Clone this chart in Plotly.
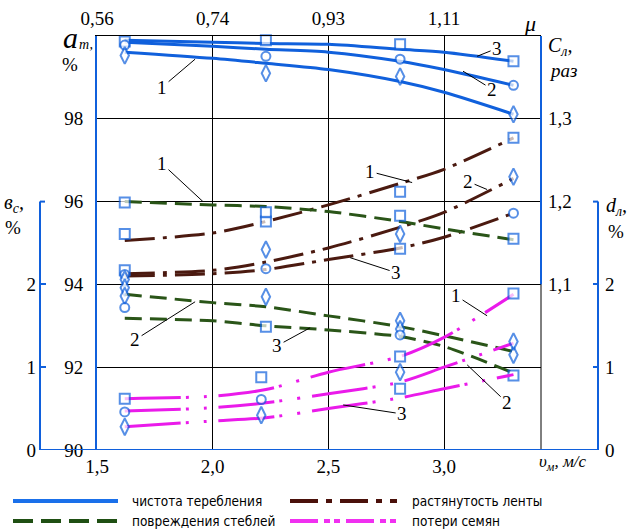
import plotly.graph_objects as go

W, H = 633, 529

# ---------------- data ----------------
v_fit = [1.62, 2.0, 2.23, 2.5, 2.81, 3.0, 3.3]          # υм, м/с
mu_ticks = [1.5, 2.0, 2.5, 3.0]
mu_labels = ['0,56', '0,74', '0,93', '1,11']
v_ticks = [1.5, 2.0, 2.5, 3.0]
v_labels = ['1,5', '2,0', '2,5', '3,0']

# чистота теребления a_т, %
clean_1 = [99.61, 99.46, 99.34, 99.19, 98.90, 98.64, 98.11]
clean_2 = [99.85, 99.75, 99.68, 99.61, 99.39, 99.19, 98.81]
clean_3 = [99.90, 99.85, 99.82, 99.80, 99.68, 99.61, 99.39]
clean_mk_v = [1.62, 1.62, 1.62, 2.23, 2.23, 2.23, 2.81, 2.81, 2.81, 3.3, 3.3, 3.3]
clean_mk = [99.87, 99.78, 99.53, 99.90, 99.51, 99.10, 99.80, 99.44, 99.02, 99.39, 98.81, 98.11]
clean_mk_s = ['s', 'c', 'd', 's', 'c', 'd', 's', 'c', 'd', 's', 'c', 'd']

# растянутость ленты С_л, раз
stretch_1 = [1.153, 1.162, 1.176, 1.196, 1.222, 1.239, 1.277]
stretch_2 = [1.113, 1.117, 1.127, 1.144, 1.169, 1.187, 1.228]
stretch_3 = [1.110, 1.113, 1.118, 1.130, 1.144, 1.157, 1.186]
stretch_mk_v = [1.62, 1.62, 1.62, 1.62, 2.23, 2.23, 2.23, 2.81, 2.81, 2.81, 3.3, 3.3, 3.3]
stretch_mk = [1.161, 1.117, 1.112, 1.106, 1.176, 1.142, 1.119, 1.212, 1.161, 1.143, 1.277, 1.230, 1.186]
stretch_mk_s = ['s', 's', 'c', 'd', 's', 'd', 'c', 's', 'd', 's', 's', 'd', 'c']

# повреждения стеблей в_с, %
damage_1 = [3.00, 2.96, 2.94, 2.88, 2.76, 2.67, 2.54]
damage_2 = [1.88, 1.78, 1.73, 1.62, 1.49, 1.38, 1.19]
damage_3 = [1.59, 1.56, 1.50, 1.45, 1.37, 1.25, 0.93]
damage_mk_v = [1.62, 1.62, 1.62, 1.62, 2.23, 2.23, 2.23, 2.81, 2.81, 2.81, 2.81, 3.3, 3.3, 3.3]
damage_mk = [2.99, 1.96, 1.86, 1.72, 2.87, 1.85, 1.49, 2.83, 1.56, 1.46, 1.39, 2.55, 1.15, 0.90]
damage_mk_s = ['s', 'd', 'd', 'c', 's', 'd', 's', 's', 'd', 'd', 'c', 's', 'd', 's']

# потери семян d_л, %
loss_1 = [0.62, 0.65, 0.73, 0.94, 1.13, 1.36, 1.88]
loss_2 = [0.47, 0.51, 0.57, 0.68, 0.82, 1.00, 1.29]
loss_3 = [0.28, 0.35, 0.39, 0.50, 0.63, 0.74, 0.91]
loss_mk_v = [1.62, 1.62, 1.62, 2.21, 2.21, 2.21, 2.81, 2.81, 2.81, 3.3, 3.3]
loss_mk = [0.62, 0.46, 0.28, 0.88, 0.61, 0.42, 1.13, 0.94, 0.74, 1.89, 1.31]
loss_mk_s = ['s', 'c', 'd', 's', 'c', 'd', 's', 'd', 's', 's', 'd']

legend_names = ['чистота теребления', 'растянутость ленты', 'повреждения стеблей', 'потери семян']

# ---------------- styles ----------------
BLUE = '#1060dc'
GREEN = '#2a5518'
BROWN = '#4b1a10'
PINK = '#ea1aea'
FONT = 'Liberation Serif'
SYM = {'s': 'square', 'c': 'circle', 'd': 'diamond-tall'}
SIZE = {'s': 10, 'c': 9, 'd': 12}

DASH_G = '17px,8px'
DASH_B = '30px,8px,4px,8px'
DASH_P = '56px,5px,3px,15px,3px,12px'

fig = go.Figure()


def add_line(y, axis, color, dash):
    fig.add_trace(go.Scatter(
        x=v_fit, y=y, yaxis=axis, mode='lines',
        line=dict(color=color, width=3, dash=dash, shape='spline', smoothing=0.8),
        showlegend=False, hoverinfo='skip'))


def add_markers(xv, yv, syms, axis):
    fig.add_trace(go.Scatter(
        x=xv, y=yv, yaxis=axis, mode='markers', cliponaxis=False,
        marker=dict(symbol=[SYM[s] for s in syms], size=[SIZE[s] for s in syms],
                    color='white', line=dict(color=BLUE, width=2)),
        showlegend=False, hoverinfo='skip'))


for ys in (clean_1, clean_2, clean_3):
    add_line(ys, 'y', BLUE, 'solid')
for ys in (stretch_1, stretch_2, stretch_3):
    add_line(ys, 'y2', BROWN, DASH_B)
for ys in (damage_1, damage_2, damage_3):
    add_line(ys, 'y3', GREEN, DASH_G)
for ys in (loss_1, loss_2, loss_3):
    add_line(ys, 'y4', PINK, DASH_P)

add_markers(clean_mk_v, clean_mk, clean_mk_s, 'y')
add_markers(stretch_mk_v, stretch_mk, stretch_mk_s, 'y2')
add_markers(damage_mk_v, damage_mk, damage_mk_s, 'y3')
add_markers(loss_mk_v, loss_mk, loss_mk_s, 'y4')

# top axis holder
fig.add_trace(go.Scatter(x=[], y=[], xaxis='x2', yaxis='y', mode='markers', showlegend=False))

# ---------------- layout ----------------
x0, x1 = 97 / W, 541 / W
y0, y1 = (H - 450) / H, (H - 36) / H
xr = [1.5, 3.419]

tickfont = dict(family=FONT, size=19, color='black')

fig.update_layout(
    width=W, height=H, margin=dict(l=0, r=0, t=0, b=0, autoexpand=False),
    paper_bgcolor='white', plot_bgcolor='white', showlegend=False,
    font=dict(family=FONT, size=19, color='black'),
    xaxis=dict(domain=[x0, x1], range=xr, tickvals=v_ticks, ticktext=v_labels,
               showgrid=True, gridcolor='black', gridwidth=1, zeroline=False,
               showline=False, ticks='', ticklabelstandoff=3, tickfont=tickfont,
               automargin=False),
    xaxis2=dict(overlaying='x', side='top', anchor='y', range=xr, tickvals=mu_ticks,
                ticktext=mu_labels, showgrid=False, showline=True, linecolor='black',
                linewidth=1, ticks='', zeroline=False, ticklabelstandoff=2, tickfont=tickfont,
                automargin=False),
    yaxis=dict(domain=[y0, y1], range=[90, 100], tickvals=[90, 92, 94, 96, 98],
               ticktext=['90', '92', '94', '96', '98'],
               showgrid=True, gridcolor='black', gridwidth=1, showline=True,
               linecolor=BLUE, linewidth=2, zeroline=False, ticks='',
               ticklabelstandoff=8, tickfont=tickfont, automargin=False),
    yaxis2=dict(overlaying='y', side='right', anchor='x', range=[0.9, 1.4],
                tickvals=[1.1, 1.2, 1.3], ticktext=['1,1', '1,2', '1,3'],
                showgrid=False, showline=False, zeroline=False, ticks='',
                ticklabelstandoff=6, tickfont=tickfont, automargin=False),
    yaxis3=dict(overlaying='y', side='left', anchor='free', position=40 / W,
                range=[0, 5], tickvals=[0, 1, 2], ticktext=['0', '1', '2'],
                ticks='inside', ticklen=5, tickwidth=2, tickcolor=BLUE,
                showgrid=False, showline=False, zeroline=False,
                ticklabelstandoff=4, tickfont=tickfont, automargin=False),
    yaxis4=dict(overlaying='y', side='right', anchor='free', position=598 / W,
                range=[0, 5], tickvals=[0, 1, 2], ticktext=['0', '1', '2'],
                ticks='inside', ticklen=5, tickwidth=2, tickcolor=BLUE,
                showgrid=False, showline=False, zeroline=False,
                ticklabelstandoff=6, tickfont=tickfont, automargin=False),
)

shapes = []
# partial axis lines
shapes.append(dict(type='line', xref='paper', yref='y3', x0=40 / W, x1=40 / W, y0=0, y1=3,
                   line=dict(color=BLUE, width=2)))
shapes.append(dict(type='line', xref='paper', yref='y3', x0=40 / W, x1=45 / W, y0=3, y1=3,
                   line=dict(color=BLUE, width=2)))
shapes.append(dict(type='line', xref='paper', yref='y4', x0=598 / W, x1=598 / W, y0=0, y1=3,
                   line=dict(color=BLUE, width=2)))
shapes.append(dict(type='line', xref='paper', yref='y4', x0=593 / W, x1=598 / W, y0=3, y1=3,
                   line=dict(color=BLUE, width=2)))
shapes.append(dict(type='line', xref='paper', yref='y2', x0=x1, x1=x1, y0=1.1, y1=1.4,
                   line=dict(color=BLUE, width=2)))
shapes.append(dict(type='line', xref='paper', yref='y', x0=x1, x1=x1, y0=90, y1=94,
                   line=dict(color='black', width=1)))
shapes.append(dict(type='line', xref='paper', yref='y', x0=40 / W, x1=598 / W, y0=90, y1=90,
                   line=dict(color=BLUE, width=2)))

# legend
LEG = [(13, 118, 501, '#1a70ea', 'solid', 130, legend_names[0]),
       (290, 397, 501, '#4a100a', '28px,8px,6px,8px', 410, legend_names[1]),
       (13, 118, 521, '#1f4f13', '20px,8px', 130, legend_names[2]),
       (290, 397, 521, '#f030f0', '28px,6px,6px,4px,6px,6px', 410, legend_names[3])]
annotations = []
for xa, xb, yy, col, dsh, xt, name in LEG:
    shapes.append(dict(type='line', xref='paper', yref='paper', x0=xa / W, x1=xb / W,
                       y0=(H - yy) / H, y1=(H - yy) / H, line=dict(color=col, width=4, dash=dsh)))
    annotations.append(dict(xref='paper', yref='paper', x=xt / W, y=(H - yy) / H, text=name,
                            showarrow=False, xanchor='left', yanchor='middle',
                            font=dict(family='DejaVu Sans Condensed, Liberation Sans Narrow, Roboto',
                                      size=13.5, color='black')))


def ptxt(x, y, text, size=19, xanchor='center'):
    annotations.append(dict(xref='paper', yref='paper', x=x / W, y=(H - y) / H, text=text,
                            showarrow=False, xanchor=xanchor, yanchor='middle',
                            font=dict(family=FONT, size=size, color='black')))


# axis titles
ptxt(70, 37, '<i>a</i>', 30)
ptxt(86, 44, '<i>т,</i>', 14)
ptxt(70, 65, '%', 19)
ptxt(546, 47, '<i>С<sub>л</sub>,</i>', 20, 'left')
ptxt(547, 70, '<i>раз</i>', 19, 'left')
ptxt(14, 203, '<i>в<sub>с</sub>,</i>', 20)
ptxt(13, 227, '%', 19)
ptxt(616, 207, '<i>d<sub>л</sub>,</i>', 20)
ptxt(616, 232, '%', 19)
ptxt(562, 463, '<i>υ<sub>м</sub>, м/с</i>', 17)
ptxt(530, 24, '<i>μ</i>', 22)

# curve labels: (text, x, y, axis, ax, ay)
labels = [('1', 1.924, 99.44, 'y', -33, 28), ('2', 3.082, 99.15, 'y', 29, 18),
          ('3', 3.143, 99.51, 'y', 20, -8),
          ('1', 1.958, 3.00, 'y3', -41, -38), ('2', 1.924, 1.79, 'y3', -60, 38),
          ('3', 2.421, 1.476, 'y3', -33, 18),
          ('1', 2.862, 1.223, 'y2', -42, -11), ('2', 3.186, 1.2146, 'y2', -19, -8),
          ('3', 2.594, 1.1323, 'y2', 46, 15),
          ('1', 3.186, 1.621, 'y4', -31, -20), ('2', 3.100, 1.028, 'y4', 40, 38),
          ('3', 2.564, 0.544, 'y4', 59, 9)]
for t, xv, yv, ax_, dx, dy in labels:
    annotations.append(dict(xref='x', yref=ax_, x=xv, y=yv, text=t, showarrow=True,
                            arrowhead=0, arrowwidth=1, arrowcolor='black', ax=dx, ay=dy,
                            font=dict(family=FONT, size=19, color='black')))

fig.update_layout(shapes=shapes, annotations=annotations)
fig.write_html('out.html', config={'displayModeBar': False},
               post_script="document.body.style.margin='0';document.body.style.overflow='hidden';")
